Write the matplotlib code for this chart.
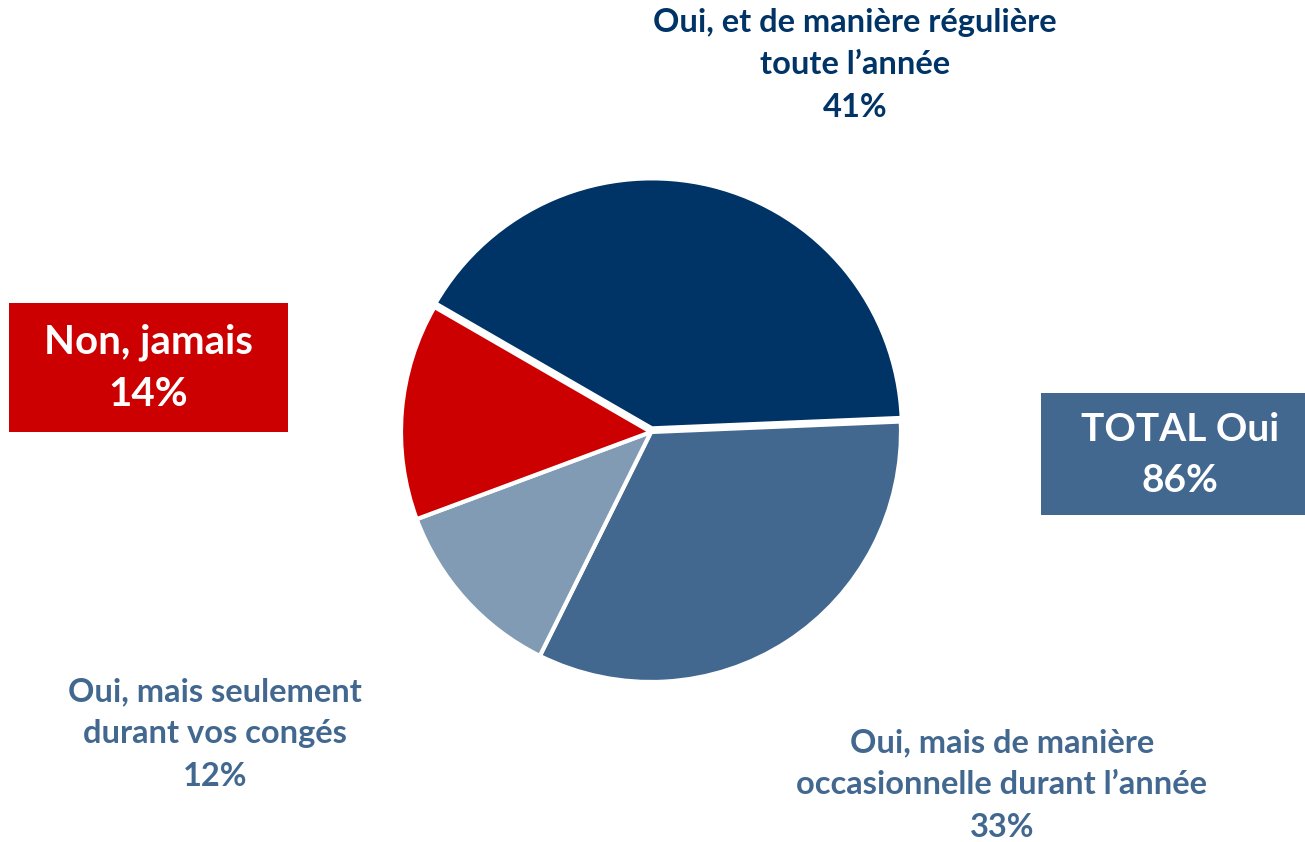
import matplotlib
matplotlib.use('Agg')
import matplotlib.pyplot as plt
from matplotlib.patches import Rectangle

# data
labels = ["Oui, et de manière régulière\ntoute l’année",
          "Oui, mais de manière\noccasionnelle durant l’année",
          "Oui, mais seulement\ndurant vos congés",
          "Non, jamais"]
values = [41, 33, 12, 14]
colors = ['#003366', '#426890', '#809bb3', '#cc0000']
total_oui = sum(values[:3])

plt.rcParams['font.family'] = ['Lato', 'DejaVu Sans']
plt.rcParams['font.weight'] = 'bold'

W, H = 1305, 842
fig = plt.figure(figsize=(W / 100, H / 100), dpi=100)

# pie axes, centre (651, 432), radius ~250 px
cx, cy, r = 651, 432, 250
pad = 1.05
ax = fig.add_axes([(cx - r * pad) / W, (H - cy - r * pad) / H, 2 * r * pad / W, 2 * r * pad / H])
wedges, _ = ax.pie(values, colors=colors, startangle=150, counterclock=False,
                   explode=[0.015, 0, 0, 0],
                   wedgeprops=dict(edgecolor='white', linewidth=3))
ax.set_xlim(-pad, pad)
ax.set_ylim(-pad, pad)
ax.set_aspect('equal')
ax.axis('off')


def fx(x):
    return x / W


def fy(y):
    return 1 - y / H


# outer labels
lab_fs = 23.5
fig.text(fx(855), fy(65), f"{labels[0]}\n{values[0]}%", ha='center', va='center',
         color=colors[0], fontsize=lab_fs, fontweight='bold', linespacing=1.55)
fig.text(fx(1002), fy(785), f"{labels[1]}\n{values[1]}%", ha='center', va='center',
         color=colors[1], fontsize=lab_fs, fontweight='bold', linespacing=1.55)
fig.text(fx(215), fy(734), f"{labels[2]}\n{values[2]}%", ha='center', va='center',
         color=colors[1], fontsize=lab_fs, fontweight='bold', linespacing=1.55)

# boxes
fig.add_artist(Rectangle((fx(9), fy(432)), fx(279), 129 / H, transform=fig.transFigure,
                         facecolor=colors[3], edgecolor='none'))
fig.text(fx(148), fy(368), f"{labels[3]}\n{values[3]}%", ha='center', va='center',
         color='white', fontsize=29, fontweight='bold', linespacing=1.5)

fig.add_artist(Rectangle((fx(1041), fy(515)), fx(264), 122 / H, transform=fig.transFigure,
                         facecolor=colors[1], edgecolor='none'))
fig.text(fx(1180), fy(455), f"TOTAL Oui\n{total_oui}%", ha='center', va='center',
         color='white', fontsize=28, fontweight='bold', linespacing=1.55)

fig.savefig('out.png', dpi=100)
